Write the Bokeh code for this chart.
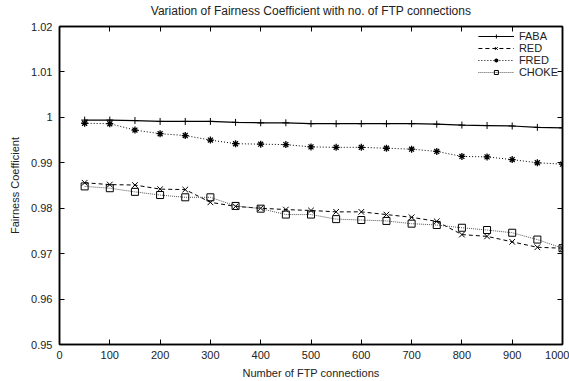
from bokeh.plotting import figure
from bokeh.models import LinearAxis, FixedTicker, Range1d, Legend, LegendItem
from bokeh.embed import file_html
from bokeh.resources import INLINE

connections = [50, 100, 150, 200, 250, 300, 350, 400, 450, 500,
               550, 600, 650, 700, 750, 800, 850, 900, 950, 1000]
faba = [0.9994, 0.9994, 0.9993, 0.9991, 0.9991, 0.9991, 0.9989, 0.9988, 0.9988, 0.9986,
        0.9986, 0.9986, 0.9986, 0.9986, 0.9985, 0.9983, 0.9982, 0.9981, 0.9978, 0.9977]
red = [0.9856, 0.9852, 0.9851, 0.9842, 0.9841, 0.9813, 0.9804, 0.9800, 0.9797, 0.9795,
       0.9792, 0.9792, 0.9786, 0.9780, 0.9771, 0.9742, 0.9738, 0.9726, 0.9714, 0.9712]
fred = [0.9987, 0.9986, 0.9972, 0.9964, 0.9960, 0.9950, 0.9942, 0.9941, 0.9940, 0.9935,
        0.9934, 0.9934, 0.9932, 0.9930, 0.9925, 0.9914, 0.9913, 0.9907, 0.9900, 0.9897]
choke = [0.9848, 0.9844, 0.9836, 0.9829, 0.9824, 0.9824, 0.9805, 0.9799, 0.9786, 0.9786,
         0.9776, 0.9774, 0.9772, 0.9766, 0.9763, 0.9757, 0.9752, 0.9746, 0.9731, 0.9712]

x_ticks = [0, 100, 200, 300, 400, 500, 600, 700, 800, 900, 1000]
y_ticks = [0.95, 0.96, 0.97, 0.98, 0.99, 1.0, 1.01, 1.02]
y_tick_labels = ["0.95", "0.96", "0.97", "0.98", "0.99", "1", "1.01", "1.02"]
title_text = "Variation of Fairness Coefficient with no. of FTP connections"

FONT = "Liberation Sans"

p = figure(width=569, height=381, output_backend="svg", toolbar_location=None,
           x_range=Range1d(0, 1000), y_range=Range1d(0.95, 1.02),
           min_border_left=59, min_border_right=7, min_border_top=26, min_border_bottom=5)

p.xgrid.visible = False
p.ygrid.visible = False
p.outline_line_color = "black"
p.outline_line_width = 1.5
p.background_fill_color = "white"
p.border_fill_color = "white"

def style_axis(ax):
    ax.axis_line_color = "black"
    ax.axis_line_width = 1.5
    ax.major_tick_in = 5
    ax.major_tick_out = 0
    ax.minor_tick_in = 0
    ax.minor_tick_out = 0
    ax.major_tick_line_color = "black"
    ax.major_label_text_font = FONT
    ax.major_label_text_font_size = "11px"
    ax.major_label_text_color = "#222222"
    ax.axis_label_text_font = FONT
    ax.axis_label_text_font_size = "11px"
    ax.axis_label_text_font_style = "normal"
    ax.axis_label_text_color = "#222222"

p.xaxis.ticker = FixedTicker(ticks=x_ticks)
p.yaxis.ticker = FixedTicker(ticks=y_ticks)
p.yaxis.major_label_overrides = dict(zip(y_ticks, y_tick_labels))
p.xaxis.axis_label = "Number of FTP connections"
p.yaxis.axis_label = "Fairness Coefficient"
style_axis(p.xaxis[0])
style_axis(p.yaxis[0])
p.xaxis.major_label_standoff = 6
p.yaxis.major_label_standoff = 7
p.xaxis.axis_label_standoff = 5
p.yaxis.axis_label_standoff = 7

top_ax = LinearAxis(ticker=FixedTicker(ticks=x_ticks),
                    major_label_overrides={t: "" for t in x_ticks},
                    axis_label=title_text)
right_ax = LinearAxis(ticker=FixedTicker(ticks=y_ticks),
                      major_label_overrides={t: "" for t in y_ticks})
style_axis(top_ax)
style_axis(right_ax)
for ax in (top_ax, right_ax):
    ax.major_label_standoff = 0
top_ax.axis_label_text_font_size = "12px"
top_ax.axis_label_standoff = 9
p.add_layout(top_ax, "above")
p.add_layout(right_ax, "right")

r1 = p.line(connections, faba, line_color="black", line_width=1.2)
m1 = p.scatter(connections, faba, marker="cross", size=7, line_color="black")
r2 = p.line(connections, red, line_color="black", line_width=1, line_dash="4 3")
m2 = p.scatter(connections, red, marker="x", size=8, line_color="black")
r3 = p.line(connections, fred, line_color="black", line_width=1, line_dash="1 2")
m3 = p.scatter(connections, fred, marker="asterisk", size=7, line_color="black",
               line_width=1.3)
r4 = p.line(connections, choke, line_color="#555555", line_width=1, line_dash="1 1")
m4 = p.scatter(connections, choke, marker="square", size=7, line_color="black",
               fill_color=None)

legend = Legend(items=[
    LegendItem(label="FABA", renderers=[r1, m1]),
    LegendItem(label="RED", renderers=[r2, m2]),
    LegendItem(label="FRED", renderers=[r3, m3]),
    LegendItem(label="CHOKE", renderers=[r4, m4]),
], location="top_right")
legend.border_line_color = None
legend.background_fill_alpha = 0
legend.label_text_font = FONT
legend.label_text_font_size = "11px"
legend.label_text_color = "#222222"
legend.label_height = 10
legend.glyph_height = 10
legend.glyph_width = 36
legend.spacing = 0
legend.padding = 4
legend.margin = 4
p.add_layout(legend)

open("out.html", "w").write(file_html(p, INLINE))
